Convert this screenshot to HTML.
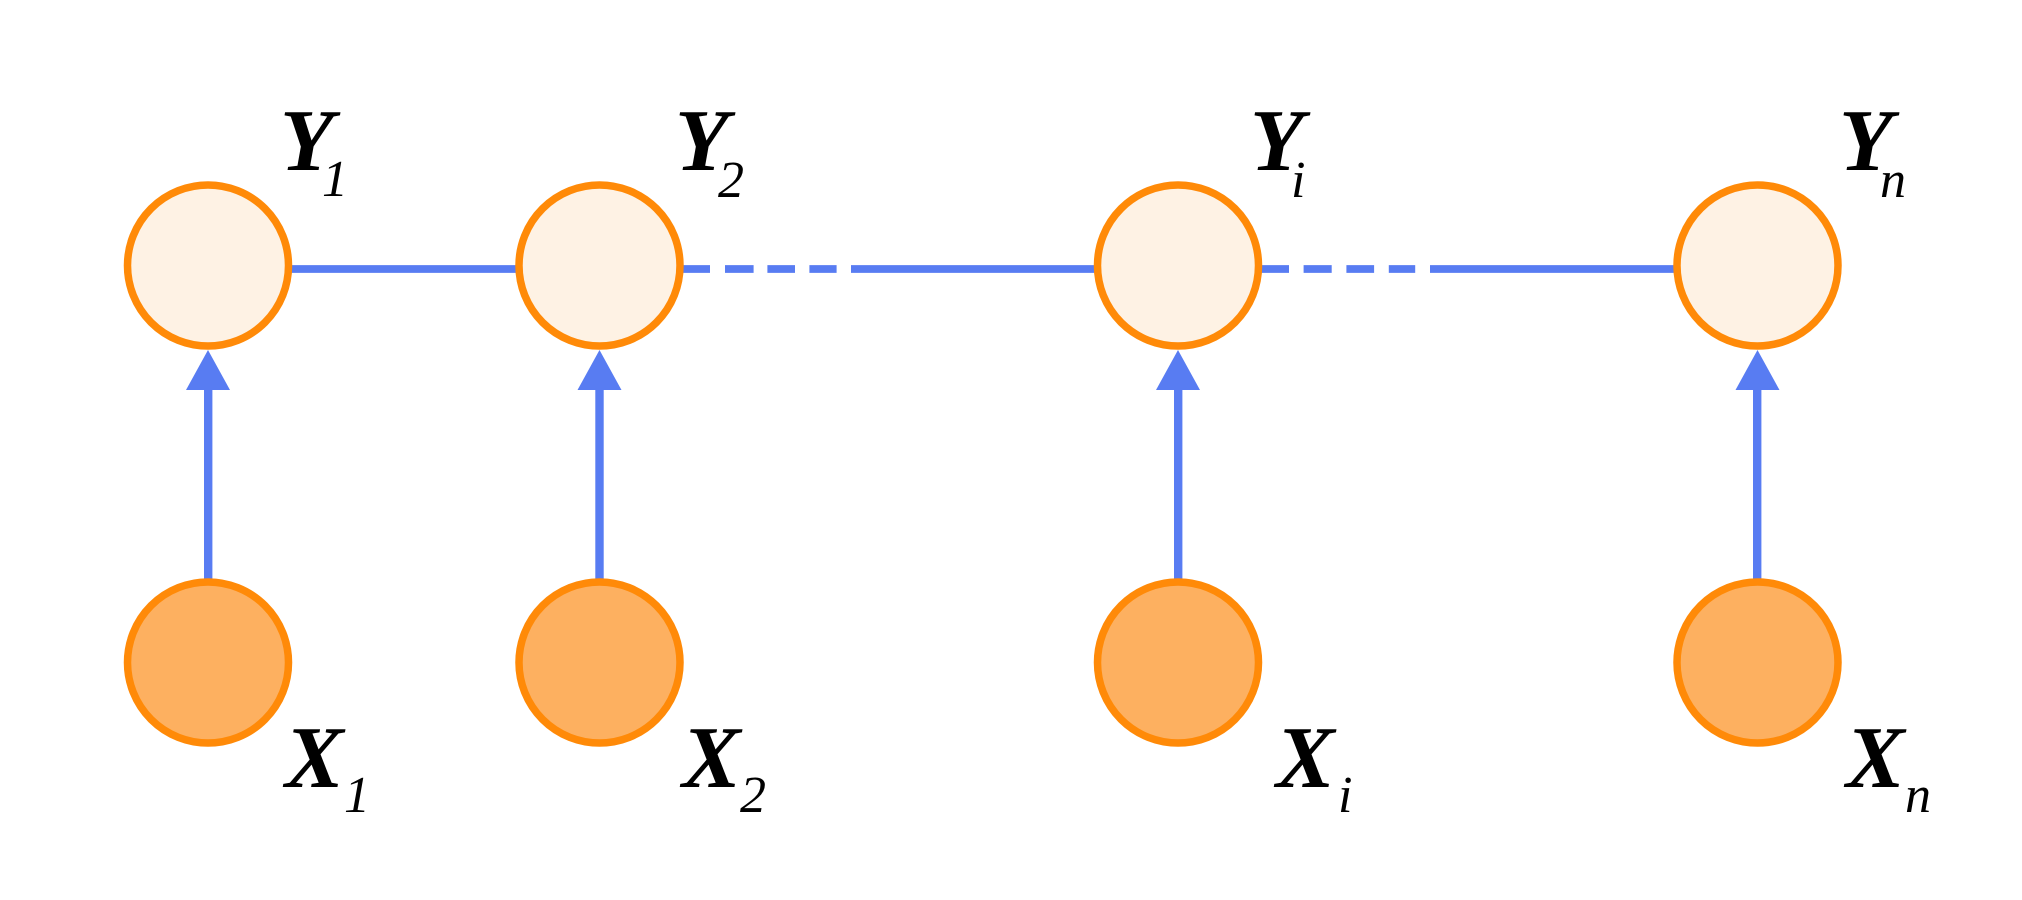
<!DOCTYPE html>
<html>
<head>
<meta charset="utf-8">
<style>
html,body{margin:0;padding:0;background:#fff;}
svg{display:block;}
.L{font-family:"Liberation Serif","Times New Roman",Times,serif;font-style:italic;font-weight:bold;font-size:88px;fill:#000;}
.S{font-family:"Liberation Serif","Times New Roman",Times,serif;font-style:italic;font-weight:normal;font-size:52px;fill:#000;}
</style>
</head>
<body>
<svg width="2022" height="900" viewBox="0 0 2022 900" xmlns="http://www.w3.org/2000/svg">
<rect width="2022" height="900" fill="#fff"/>
<g stroke="#587CF2" stroke-width="7.7" fill="none">
  <line x1="290" y1="269" x2="518" y2="269"/>
  <line x1="683" y1="269" x2="710" y2="269"/>
  <line x1="725" y1="269" x2="753.6" y2="269"/>
  <line x1="767.4" y1="269" x2="795" y2="269"/>
  <line x1="809.4" y1="269" x2="836.6" y2="269"/>
  <line x1="851" y1="269" x2="1097" y2="269"/>
  <line x1="1261" y1="269" x2="1289" y2="269"/>
  <line x1="1303.6" y1="269" x2="1331.7" y2="269"/>
  <line x1="1346.4" y1="269" x2="1374.1" y2="269"/>
  <line x1="1388.8" y1="269" x2="1415.2" y2="269"/>
  <line x1="1430" y1="269" x2="1676" y2="269"/>
</g>
<g fill="#587CF2">
  <rect x="204" y="385" width="8.4" height="196"/>
  <polygon points="208,350 186,390 230,390"/>
  <rect x="595.3" y="385" width="8.4" height="196"/>
  <polygon points="599.5,350 577.5,390 621.5,390"/>
  <rect x="1174" y="385" width="8.4" height="196"/>
  <polygon points="1178,350 1156,390 1200,390"/>
  <rect x="1753" y="385" width="8.4" height="196"/>
  <polygon points="1757.5,350 1735.5,390 1779.5,390"/>
</g>
<g stroke="#FF8A08" stroke-width="7.5">
  <circle cx="208" cy="265.5" r="80.5" fill="#FEF2E4"/>
  <circle cx="599.5" cy="265.5" r="80.5" fill="#FEF2E4"/>
  <circle cx="1178" cy="265.5" r="80.5" fill="#FEF2E4"/>
  <circle cx="1757.5" cy="265.5" r="80.5" fill="#FEF2E4"/>
  <circle cx="208" cy="662.5" r="80.5" fill="#FDB060"/>
  <circle cx="599.5" cy="662.5" r="80.5" fill="#FDB060"/>
  <circle cx="1178" cy="662.5" r="80.5" fill="#FDB060"/>
  <circle cx="1757.5" cy="662.5" r="80.5" fill="#FDB060"/>
</g>
<text class="L" x="280" y="170">Y</text><text class="S" x="322" y="196">1</text>
<text class="L" x="675" y="170">Y</text><text class="S" x="718" y="197">2</text>
<text class="L" x="1250" y="170">Y</text><text class="S" x="1291" y="197">i</text>
<text class="L" x="1839" y="170">Y</text><text class="S" x="1880" y="197">n</text>
<text class="L" x="285" y="787">X</text><text class="S" x="344" y="812">1</text>
<text class="L" x="682" y="787">X</text><text class="S" x="740" y="812">2</text>
<text class="L" x="1276" y="787">X</text><text class="S" x="1338" y="812">i</text>
<text class="L" x="1846" y="787">X</text><text class="S" x="1905" y="812">n</text>
</svg>
</body>
</html>
